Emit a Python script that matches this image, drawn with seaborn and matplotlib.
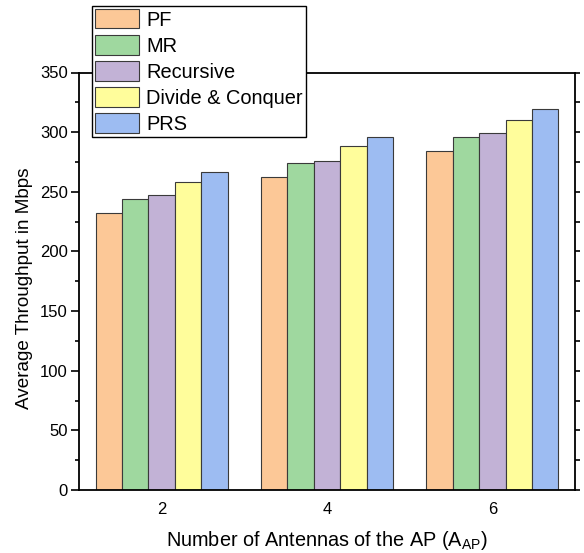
import matplotlib
matplotlib.use("Agg")
import matplotlib.pyplot as plt
import pandas as pd
import seaborn as sns
from matplotlib.ticker import MultipleLocator

# data
antennas = ["2", "4", "6"]
methods = ["PF", "MR", "Recursive", "Divide & Conquer", "PRS"]
pf = [232, 262, 284]
mr = [244, 274, 296]
recursive = [247, 276, 299]
divide_conquer = [258, 288, 310]
prs = [267, 296, 319]

palette = ["#FCC897", "#9FD89F", "#C2B2D6", "#FFFD9B", "#9DBCF2"]

rows = []
for name, vals in zip(methods, [pf, mr, recursive, divide_conquer, prs]):
    for a, v in zip(antennas, vals):
        rows.append({"Antennas": a, "Method": name, "Throughput": v})
df = pd.DataFrame(rows)

sns.set_style("white")
plt.rcParams['font.family'] = ['Liberation Sans', 'DejaVu Sans']
plt.rcParams['mathtext.fontset'] = 'custom'
plt.rcParams['mathtext.rm'] = 'Liberation Sans'
plt.rcParams['mathtext.it'] = 'Liberation Sans:italic'
for key in ['text.color', 'axes.labelcolor', 'xtick.color', 'ytick.color']:
    plt.rcParams[key] = 'black'

fig = plt.figure(figsize=(5.84, 5.53), dpi=100)
ax = fig.add_axes([79 / 584, 1 - 490 / 553, (575 - 79) / 584, (490 - 72.5) / 553])

sns.barplot(data=df, x="Antennas", y="Throughput", hue="Method", hue_order=methods,
            order=antennas, palette=palette, width=0.8, edgecolor="#3a3a3a",
            linewidth=0.8, saturation=1, ax=ax)

ax.set_ylim(0, 350)
ax.set_xlim(-0.5, 2.5)
ax.yaxis.set_major_locator(MultipleLocator(50))
ax.yaxis.set_minor_locator(MultipleLocator(25))
ax.tick_params(axis='y', which='major', direction='out', length=6, width=1.2,
               labelsize=12, left=True, pad=2)
ax.tick_params(axis='y', which='minor', direction='out', length=3, width=1.2, left=True)
ax.tick_params(axis='x', length=0, labelsize=12, pad=9)

for s in ax.spines.values():
    s.set_linewidth(1.3)
    s.set_color("black")

ax2 = ax.twinx()
ax2.set_ylim(0, 350)
ax2.yaxis.set_major_locator(MultipleLocator(50))
ax2.yaxis.set_minor_locator(MultipleLocator(25))
ax2.tick_params(axis='y', which='both', direction='out', length=3.6, width=1.2,
                labelright=False, right=True)
for s in ax2.spines.values():
    s.set_visible(False)

ax.set_xlabel(r"Number of Antennas of the AP (A$_{\mathrm{AP}}$)", fontsize=14.3, labelpad=8)
ax.set_ylabel("Average Throughput in Mbps", fontsize=13.6)
ax.yaxis.set_label_coords(-0.092, 0.484)

handles, labels = ax.get_legend_handles_labels()
if ax.get_legend() is not None:
    ax.get_legend().remove()
leg = fig.legend(handles, labels, loc="upper left",
                 bbox_to_anchor=(92 / 584, 1 - 6 / 553), borderaxespad=0,
                 fontsize=14.4, frameon=True, fancybox=False, framealpha=1,
                 edgecolor="black", handlelength=2.2, handleheight=1.12,
                 labelspacing=0.28, borderpad=0.15, handletextpad=0.35)
leg.get_frame().set_linewidth(1.0)
leg.set_zorder(10)

fig.savefig("out.png", dpi=100)
